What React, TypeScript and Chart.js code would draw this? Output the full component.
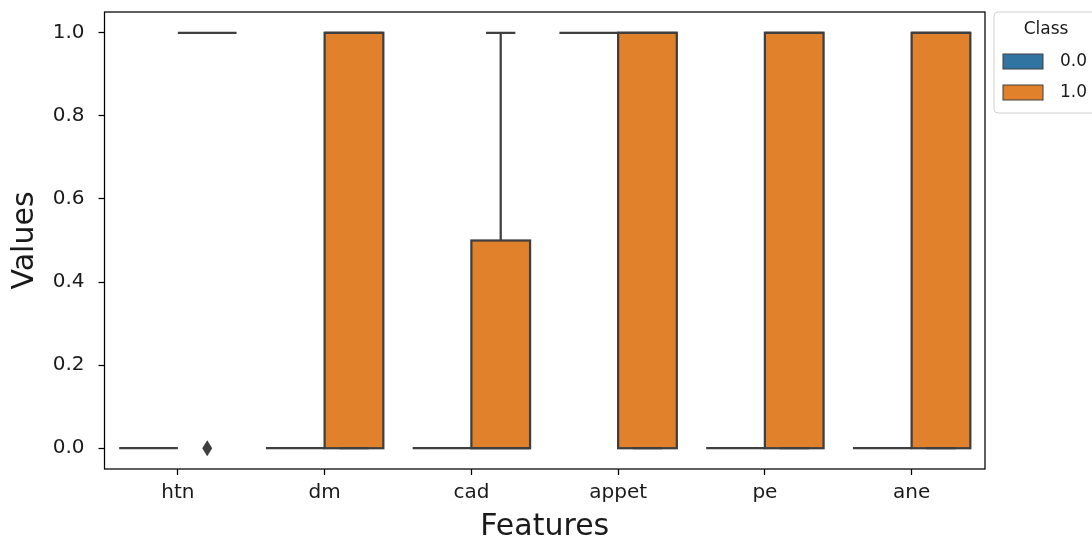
import React, { useEffect, useRef } from 'react';
import { Chart, registerables } from 'chart.js';

Chart.register(...registerables);

// Features on the x axis and the two classes shown side by side
const features = ['htn', 'dm', 'cad', 'appet', 'pe', 'ane'];
const classLabels = ['0.0', '1.0'];
const classColors = ['#3274a1', '#e1812c'];

// Box statistics for class 0.0
const q1Class0 = [0, 0, 0, 1, 0, 0];
const q3Class0 = [0, 0, 0, 1, 0, 0];
const medianClass0 = [0, 0, 0, 1, 0, 0];
const whiskerLowClass0 = [0, 0, 0, 1, 0, 0];
const whiskerHighClass0 = [0, 0, 0, 1, 0, 0];
const outliersClass0: number[][] = [[], [], [], [], [], []];

// Box statistics for class 1.0
const q1Class1 = [1, 0, 0, 0, 0, 0];
const q3Class1 = [1, 1, 0.5, 1, 1, 1];
const medianClass1 = [1, 1, 0, 1, 1, 1];
const whiskerLowClass1 = [1, 0, 0, 0, 0, 0];
const whiskerHighClass1 = [1, 1, 1, 1, 1, 1];
const outliersClass1: number[][] = [[0], [], [], [], [], []];

const yTicks = [0, 0.2, 0.4, 0.6, 0.8, 1.0];

const stats = [
  { q1: q1Class0, q3: q3Class0, median: medianClass0, lo: whiskerLowClass0, hi: whiskerHighClass0, out: outliersClass0 },
  { q1: q1Class1, q3: q3Class1, median: medianClass1, lo: whiskerLowClass1, hi: whiskerHighClass1, out: outliersClass1 },
];

const EDGE = '#3f3f3f';
const LINE_W = 2.25;
const TEXT = '#1a1a1a';
const FONT = "'DejaVu Sans', sans-serif";

// Whiskers, caps, medians, outliers and box outlines on top of the floating bars
const boxPlugin = {
  id: 'boxDetails',
  afterDatasetsDraw(chart: any) {
    const { ctx } = chart;
    const y = chart.scales.y;
    stats.forEach((st, d) => {
      const meta = chart.getDatasetMeta(d);
      meta.data.forEach((bar: any, i: number) => {
        const { x, width } = bar.getProps(['x', 'width'], true);
        const left = x - width / 2;
        const right = x + width / 2;
        const yq1 = y.getPixelForValue(st.q1[i]);
        const yq3 = y.getPixelForValue(st.q3[i]);
        const ylo = y.getPixelForValue(st.lo[i]);
        const yhi = y.getPixelForValue(st.hi[i]);
        const ymed = y.getPixelForValue(st.median[i]);
        ctx.save();
        ctx.strokeStyle = EDGE;
        ctx.lineWidth = LINE_W;
        ctx.lineCap = 'butt';
        if (Math.abs(yq1 - yq3) > 0.5) {
          ctx.strokeRect(left, yq3, width, yq1 - yq3);
        }
        ctx.beginPath();
        if (yhi < yq3) {
          ctx.moveTo(x, yq3);
          ctx.lineTo(x, yhi);
        }
        if (ylo > yq1) {
          ctx.moveTo(x, yq1);
          ctx.lineTo(x, ylo);
        }
        ctx.moveTo(x - width / 4, yhi);
        ctx.lineTo(x + width / 4, yhi);
        ctx.moveTo(x - width / 4, ylo);
        ctx.lineTo(x + width / 4, ylo);
        ctx.moveTo(left, ymed);
        ctx.lineTo(right, ymed);
        ctx.stroke();
        ctx.fillStyle = EDGE;
        st.out[i].forEach((v) => {
          const py = y.getPixelForValue(v);
          ctx.beginPath();
          ctx.moveTo(x, py - 8);
          ctx.lineTo(x + 5, py);
          ctx.lineTo(x, py + 8);
          ctx.lineTo(x - 5, py);
          ctx.closePath();
          ctx.fill();
        });
        ctx.restore();
      });
    });
  },
  afterDraw(chart: any) {
    const { ctx, chartArea } = chart;
    ctx.save();
    // frame around the plotting area
    ctx.strokeStyle = '#000';
    ctx.lineWidth = 1.25;
    ctx.strokeRect(chartArea.left, chartArea.top, chartArea.right - chartArea.left, chartArea.bottom - chartArea.top);

    // legend box
    const lx = chartArea.right + 9;
    const ly = chartArea.top;
    ctx.beginPath();
    ctx.roundRect(lx, ly, 120, 101, 4);
    ctx.fillStyle = 'rgba(255,255,255,0.8)';
    ctx.fill();
    ctx.strokeStyle = '#d0d0d0';
    ctx.lineWidth = 1;
    ctx.stroke();

    ctx.fillStyle = TEXT;
    ctx.font = `17px ${FONT}`;
    ctx.textAlign = 'center';
    ctx.textBaseline = 'middle';
    ctx.fillText('Class', lx + 52, ly + 18);
    classLabels.forEach((lab, k) => {
      const py = ly + 42 + k * 31;
      ctx.fillStyle = classColors[k];
      ctx.fillRect(lx + 9, py, 40, 15);
      ctx.strokeStyle = EDGE;
      ctx.lineWidth = 1;
      ctx.strokeRect(lx + 9, py, 40, 15);
      ctx.fillStyle = TEXT;
      ctx.textAlign = 'left';
      ctx.fillText(lab, lx + 66, py + 8);
    });
    ctx.restore();
  },
};

export default function App() {
  const canvasRef = useRef<HTMLCanvasElement | null>(null);

  useEffect(() => {
    const canvas = canvasRef.current;
    if (!canvas) return;
    const chart = new Chart(canvas, {
      type: 'bar',
      data: {
        labels: features,
        datasets: stats.map((st, d) => ({
          label: classLabels[d],
          data: st.q1.map((v, i) => [v, st.q3[i]] as [number, number]),
          backgroundColor: classColors[d],
          borderWidth: 0,
          barPercentage: 1,
          categoryPercentage: 0.8,
        })),
      },
      options: {
        responsive: false,
        animation: false,
        layout: { padding: { top: 12, right: 107, left: 0, bottom: 0 } },
        plugins: {
          legend: { display: false },
          tooltip: { enabled: false },
        },
        scales: {
          x: {
            offset: true,
            grid: {
              display: true,
              drawOnChartArea: false,
              drawTicks: true,
              tickLength: 6,
              tickColor: '#000',
              tickWidth: 1.25,
              offset: false,
            },
            border: { display: false },
            ticks: { color: TEXT, font: { family: FONT, size: 20 }, padding: 6 },
            title: {
              display: true,
              text: 'Features',
              color: TEXT,
              font: { family: FONT, size: 30, lineHeight: 1.2 },
              padding: { top: 0, bottom: -2 },
            },
            afterFit: (scale: any) => {
              scale.height = 74;
              scale.paddingLeft = 0;
              scale.paddingRight = 0;
            },
          },
          y: {
            min: -0.05,
            max: 1.05,
            grid: {
              display: true,
              drawOnChartArea: false,
              drawTicks: true,
              tickLength: 6,
              tickColor: '#000',
              tickWidth: 1.25,
            },
            border: { display: false },
            afterBuildTicks: (scale: any) => {
              scale.ticks = yTicks.map((v) => ({ value: v }));
            },
            ticks: {
              color: TEXT,
              font: { family: FONT, size: 20 },
              padding: 14,
              callback: (v: any) => Number(v).toFixed(1),
            },
            title: {
              display: true,
              text: 'Values',
              color: TEXT,
              font: { family: FONT, size: 30, lineHeight: 1.2 },
              padding: { top: 7.5, bottom: 0 },
            },
            afterFit: (scale: any) => {
              scale.width = 104.5;
              scale.paddingTop = 0;
              scale.paddingBottom = 0;
            },
          },
        },
      },
      plugins: [boxPlugin],
    });
    return () => chart.destroy();
  }, []);

  return (
    <div style={{ position: 'fixed', left: 0, top: 0, width: 1092, height: 543, background: '#fff' }}>
      <canvas ref={canvasRef} width={1092} height={543} style={{ display: 'block' }} />
    </div>
  );
}
